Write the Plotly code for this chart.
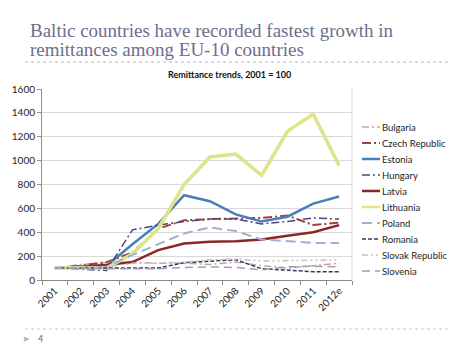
import plotly.graph_objects as go

years = ["2001", "2002", "2003", "2004", "2005", "2006", "2007", "2008", "2009", "2010", "2011", "2012e"]

bulgaria = [100, 130, 145, 150, 140, 140, 130, 150, 120, 100, 120, 140]
czech = [100, 120, 150, 230, 430, 500, 510, 515, 520, 540, 460, 480]
estonia = [100, 110, 120, 300, 470, 710, 660, 550, 490, 530, 640, 700]
hungary = [100, 90, 80, 420, 460, 490, 510, 510, 470, 490, 520, 510]
latvia = [100, 110, 125, 150, 250, 305, 320, 325, 340, 370, 400, 460]
lithuania = [100, 105, 100, 220, 430, 800, 1030, 1055, 876, 1246, 1390, 958]
poland = [100, 105, 110, 210, 300, 390, 440, 410, 340, 325, 310, 310]
romania = [100, 100, 95, 95, 100, 145, 160, 170, 95, 85, 70, 70]
slovak = [100, 110, 110, 140, 140, 150, 170, 175, 160, 160, 165, 170]
slovenia = [100, 95, 95, 95, 95, 105, 110, 105, 85, 110, 115, 110]

names = ["Bulgaria", "Czech Republic", "Estonia", "Hungary", "Latvia", "Lithuania",
         "Poland", "Romania", "Slovak Republic", "Slovenia"]
values = [bulgaria, czech, estonia, hungary, latvia, lithuania, poland, romania, slovak, slovenia]

styles = {
    "Bulgaria": ("#c9a3a1", 1.5, "7px,3px,2px,3px"),
    "Czech Republic": ("#a3403d", 2, "9px,3px,2px,3px"),
    "Estonia": ("#4a7ebb", 2.5, "solid"),
    "Hungary": ("#4e4677", 1.5, "8px,3px,2px,3px"),
    "Latvia": ("#8c2624", 2.5, "solid"),
    "Lithuania": ("#dde48a", 3.5, "solid"),
    "Poland": ("#9fb1cc", 2, "10px,5px"),
    "Romania": ("#3b3560", 1.5, "4px,2px"),
    "Slovak Republic": ("#c3c3c3", 1.5, "6px,3px,2px,3px,2px,3px"),
    "Slovenia": ("#a19db5", 1.5, "8px,5px"),
}

fig = go.Figure()
for name, vals in zip(names, values):
    color, width, dash = styles[name]
    fig.add_trace(go.Scatter(
        x=years, y=vals, name=name, mode="lines", showlegend=False,
        line=dict(color=color, width=width, dash=dash),
    ))

L, R, T, B = 42, 122, 89, 75
W, H = 474, 355
pw, ph = W - L - R, H - T - B

def px(x):
    return (x - L) / pw

def py(y):
    return (H - B - y) / ph

shapes = [
    dict(type="line", xref="paper", yref="paper", x0=1, x1=1, y0=0, y1=1,
         line=dict(color="#d9d9d9", width=1)),
    dict(type="line", xref="paper", yref="paper", x0=px(25), x1=px(451), y0=py(62), y1=py(62),
         line=dict(color="#b8b8c4", width=1, dash="dot")),
    dict(type="line", xref="paper", yref="paper", x0=px(25), x1=px(451), y0=py(329), y1=py(329),
         line=dict(color="#c8c8d0", width=1, dash="dot")),
]
annotations = [
    dict(text="Baltic countries have recorded fastest growth in",
         xref="paper", yref="paper", x=px(29), y=py(30), xanchor="left", yanchor="middle",
         showarrow=False, borderpad=0,
         font=dict(family="'Liberation Serif', 'DejaVu Serif', serif", size=19, color="#6e6e8c")),
    dict(text="remittances among EU-10 countries",
         xref="paper", yref="paper", x=px(29), y=py(50), xanchor="left", yanchor="middle",
         showarrow=False, borderpad=0,
         font=dict(family="'Liberation Serif', 'DejaVu Serif', serif", size=19, color="#6e6e8c")),
    dict(text="<b>Remittance trends, 2001 = 100</b>",
         xref="paper", yref="paper", x=px(229), y=py(74), xanchor="center", yanchor="middle",
         showarrow=False, font=dict(size=9, color="#111111")),
    dict(text="▶", xref="paper", yref="paper", x=px(27), y=py(338), xanchor="center", yanchor="middle",
         showarrow=False, font=dict(size=7, color="#a8b8cc")),
    dict(text="4", xref="paper", yref="paper", x=px(36), y=py(338), xanchor="left", yanchor="middle",
         showarrow=False, font=dict(size=9, color="#666666")),
]

# legend (built from the series names and styles)
for i, name in enumerate(names):
    color, width, dash = styles[name]
    yy = 127 + 16 * i
    shapes.append(dict(type="line", xref="paper", yref="paper",
                       x0=px(362), x1=px(380), y0=py(yy), y1=py(yy),
                       line=dict(color=color, width=min(width, 2.5), dash=dash)))
    annotations.append(dict(text=name, xref="paper", yref="paper", x=px(381), y=py(yy),
                            xanchor="left", yanchor="middle", showarrow=False, borderpad=0,
                            font=dict(size=9.5, color="#222222")))

fig.update_layout(
    width=W, height=H,
    margin=dict(l=L, r=R, t=T, b=B, pad=0),
    paper_bgcolor="white", plot_bgcolor="white",
    font=dict(family="Lato, 'Liberation Sans', sans-serif", size=10, color="#222222"),
    showlegend=False,
    xaxis=dict(
        type="category", showgrid=False,
        showline=True, linecolor="#8c8c8c", linewidth=1, mirror=False,
        ticks="outside", ticklen=4, tickcolor="#8c8c8c", tickson="boundaries",
        tickangle=-45, tickfont=dict(size=10),
        range=[-0.5, 11.5],
    ),
    yaxis=dict(
        range=[0, 1600], dtick=200,
        showgrid=True, gridcolor="#d9d9d9", gridwidth=1,
        showline=True, linecolor="#8c8c8c", linewidth=1,
        ticks="outside", ticklen=4, tickcolor="#8c8c8c",
        tickfont=dict(size=10), zeroline=False,
    ),
    shapes=shapes,
    annotations=annotations,
)

fig.write_html("out.html", config={"displayModeBar": False},
               post_script="document.body.style.margin='0';document.body.style.overflow='hidden';")
